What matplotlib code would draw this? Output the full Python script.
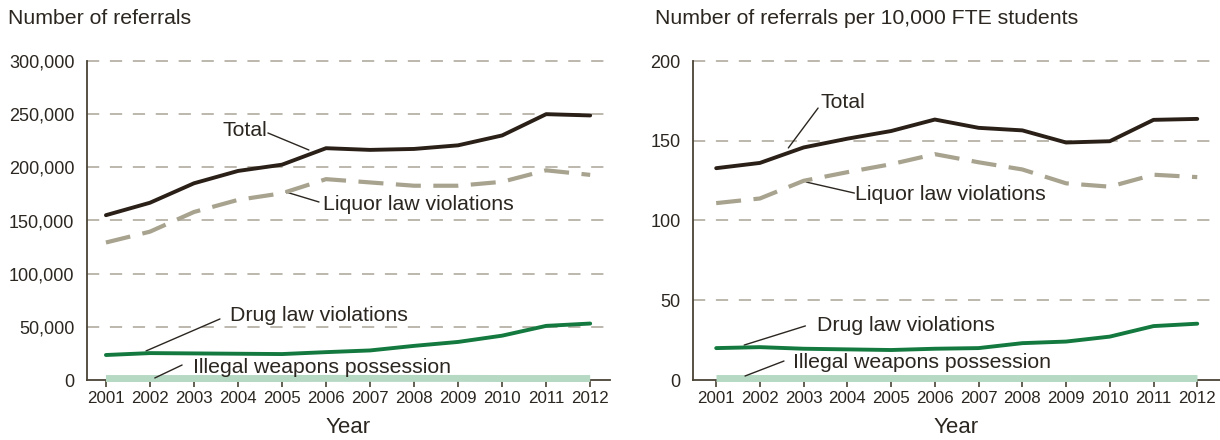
import matplotlib
matplotlib.use("Agg")
import matplotlib.pyplot as plt
from matplotlib.ticker import FuncFormatter

plt.rcParams['font.family'] = ['Liberation Sans', 'DejaVu Sans']

years = list(range(2001, 2013))

total_count = [155000, 166700, 185000, 196600, 202500, 218000, 216400, 217300, 220700, 230000, 250000, 248800]
liquor_count = [129300, 139500, 158000, 169400, 175600, 188900, 185800, 182700, 182700, 186400, 197200, 192900]
drug_count = [23500, 25300, 25000, 24700, 24400, 26200, 27800, 32100, 35800, 41700, 50900, 53100]
weapons_count = [1400, 1400, 1400, 1400, 1400, 1500, 1500, 1500, 1500, 1400, 1400, 1400]

total_rate = [132.8, 136.1, 145.8, 151.3, 156.1, 163.3, 158.1, 156.5, 148.9, 149.7, 163.1, 163.7]
liquor_rate = [110.9, 113.8, 124.9, 130.3, 135.3, 141.6, 136.5, 132.0, 123.3, 121.2, 128.7, 127.2]
drug_rate = [20.0, 20.6, 19.6, 19.2, 18.8, 19.6, 20.0, 23.1, 24.1, 27.2, 33.8, 35.3]
weapons_rate = [1.2, 1.2, 1.2, 1.2, 1.2, 1.2, 1.2, 1.2, 1.2, 1.2, 1.2, 1.2]

left_yticks = [0, 50000, 100000, 150000, 200000, 250000, 300000]
right_yticks = [0, 50, 100, 150, 200]

C_TOTAL = '#2a2018'
C_LIQ = '#a8a38f'
C_DRUG = '#13793f'
C_WEAP = '#b6d9c4'
C_TEXT = '#2b2620'
C_SPINE = '#4a4235'
C_GRID = '#a9a497'

fig = plt.figure(figsize=(12.2, 4.4), dpi=100)
ax1 = fig.add_axes([87/1220, 1-380/440, (610-87)/1220, 319/440])
ax2 = fig.add_axes([693/1220, 1-380/440, (1220-693)/1220, 319/440])


def style(ax, yticks, xlim, fmt):
    ax.set_xlim(*xlim)
    ax.set_ylim(0, yticks[-1])
    ax.set_yticks(yticks)
    ax.set_xticks(years)
    ax.set_xticklabels([str(y) for y in years])
    ax.yaxis.set_major_formatter(FuncFormatter(fmt))
    for s in ['top', 'right']:
        ax.spines[s].set_visible(False)
    for s in ['left', 'bottom']:
        ax.spines[s].set_color(C_SPINE)
        ax.spines[s].set_linewidth(1.3)
    ax.tick_params(axis='y', length=0, pad=9, labelsize=13, colors=C_TEXT)
    ax.tick_params(axis='x', length=5, width=1.2, color=C_SPINE, pad=3,
                   labelsize=12.2, labelcolor=C_TEXT)
    for t in yticks[1:]:
        ax.axhline(t, color=C_GRID, lw=1.1, dashes=(8, 7), zorder=0, clip_on=False)
    ax.set_xlabel('Year', fontsize=16, color=C_TEXT, labelpad=8)


style(ax1, left_yticks, (2000.57, 2012.45), lambda v, p: f'{int(v):,}')
style(ax2, right_yticks, (2000.47, 2012.52), lambda v, p: f'{int(v)}')


def draw(ax, tot, liq, drug, weap):
    ax.plot(years, weap, color=C_WEAP, lw=5, solid_capstyle='butt', zorder=3, clip_on=False)
    ax.plot(years, drug, color=C_DRUG, lw=2.8, solid_capstyle='round', zorder=4)
    ax.plot(years, liq, color=C_LIQ, lw=3, dashes=(6, 3), zorder=4)
    ax.plot(years, tot, color=C_TOTAL, lw=2.8, solid_capstyle='round', zorder=5)


draw(ax1, total_count, liquor_count, drug_count, weapons_count)
draw(ax2, total_rate, liquor_rate, drug_rate, weapons_rate)


def label(ax, text, txy, a, b):
    ax.annotate('', xy=b, xytext=a,
                arrowprops=dict(arrowstyle='-', color=C_TEXT, lw=1.0,
                                shrinkA=0, shrinkB=0))
    ax.text(txy[0], txy[1], text, fontsize=15.3, color=C_TEXT, ha='left', va='center')


label(ax1, 'Total', (2003.64, 234200), (2004.68, 232300), (2005.61, 216300))
label(ax1, 'Liquor law violations', (2005.93, 164600), (2005.84, 167400), (2005.09, 176800))
label(ax1, 'Drug law violations', (2003.82, 61100), (2003.59, 57400), (2001.91, 27300))
label(ax1, 'Illegal weapons possession', (2002.98, 12200), (2002.73, 14100), (2002.11, 1900))

label(ax2, 'Total', (2003.38, 173.7), (2003.33, 170.5), (2002.65, 145.5))
label(ax2, 'Liquor law violations', (2004.18, 116.0), (2004.16, 117.2), (2003.06, 124.1))
label(ax2, 'Drug law violations', (2003.31, 33.9), (2003.04, 33.9), (2001.64, 21.9))
label(ax2, 'Illegal weapons possession', (2002.76, 10.7), (2002.55, 11.9), (2001.66, 2.5))

fig.text(8/1220, 1-18/440, 'Number of referrals', fontsize=15.3, color=C_TEXT,
         ha='left', va='center')
fig.text(655/1220, 1-18/440, 'Number of referrals per 10,000 FTE students', fontsize=15.3,
         color=C_TEXT, ha='left', va='center')

fig.savefig('out.png', dpi=100, facecolor='white')
